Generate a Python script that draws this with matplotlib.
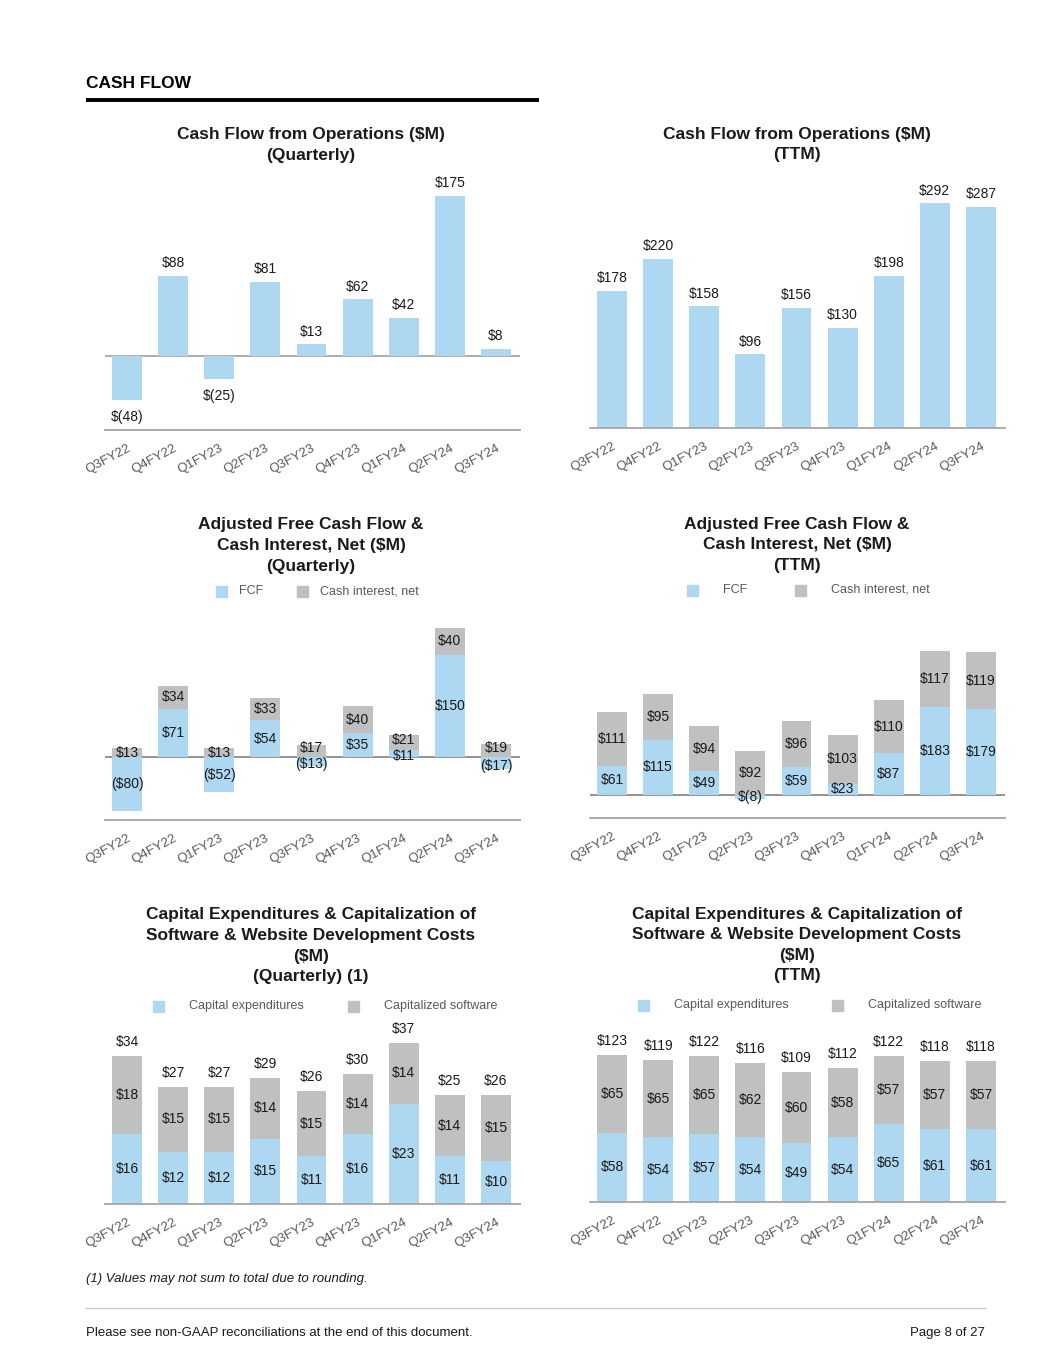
import numpy as np
import matplotlib.pyplot as plt
from matplotlib.patches import Rectangle
from matplotlib.lines import Line2D

plt.rcParams['font.family'] = ['Liberation Sans', 'DejaVu Sans']

# --- data ---
quarters = ['Q3FY22', 'Q4FY22', 'Q1FY23', 'Q2FY23', 'Q3FY23', 'Q4FY23', 'Q1FY24', 'Q2FY24', 'Q3FY24']

cfo_q = [-48, 88, -25, 81, 13, 62, 42, 175, 8]
cfo_q_lbl = ['$(48)', '$88', '$(25)', '$81', '$13', '$62', '$42', '$175', '$8']
cfo_ttm = [178, 220, 158, 96, 156, 130, 198, 292, 287]

fcf_q = [-80, 71, -52, 54, -13, 35, 11, 150, -17]
fcf_q_lbl = ['($80)', '$71', '($52)', '$54', '($13)', '$35', '$11', '$150', '($17)']
int_q = [13, 34, 13, 33, 17, 40, 21, 40, 19]

fcf_ttm = [61, 115, 49, -8, 59, 23, 87, 183, 179]
fcf_ttm_lbl = ['$61', '$115', '$49', '$(8)', '$59', '$23', '$87', '$183', '$179']
int_ttm = [111, 95, 94, 92, 96, 103, 110, 117, 119]

capex_q = [16, 12, 12, 15, 11, 16, 23, 11, 10]
soft_q = [18, 15, 15, 14, 15, 14, 14, 14, 15]
tot_q = [34, 27, 27, 29, 26, 30, 37, 25, 26]

capex_ttm = [58, 54, 57, 54, 49, 54, 65, 61, 61]
soft_ttm = [65, 65, 65, 62, 60, 58, 57, 57, 57]
tot_ttm = [123, 119, 122, 116, 109, 112, 122, 118, 118]

BLUE = '#AED8F2'
GRAY = '#BFC1C1'
AXC = '#A6A6A6'
TXT = '#1a1a1a'

W, H = 1055, 1365
fig = plt.figure(figsize=(W / 100, H / 100), dpi=100)


def fx(x):
    return x / W


def fy(y):
    return 1 - y / H


def make_axes(l, t, r, b, zero_y, scale, zero_line=False):
    ax = fig.add_axes([fx(l), fy(b), (r - l) / W, (b - t) / H])
    ax.set_xlim(-(612 - 590) / 46.1, 8 + (1005 - 981) / 46.1)
    ax.set_ylim(-(b - zero_y) / scale, (zero_y - t) / scale)
    for s in ['top', 'right', 'left']:
        ax.spines[s].set_visible(False)
    ax.spines['bottom'].set_color(AXC)
    ax.spines['bottom'].set_linewidth(1.3)
    ax.set_yticks([])
    ax.set_xticks(range(len(quarters)))
    ax.set_xticklabels(quarters, rotation=28, ha='right', rotation_mode='anchor',
                       fontsize=9.5, color='#595959')
    ax.tick_params(axis='x', length=0, pad=9)
    if zero_line:
        ax.axhline(0, color='#808080', lw=1.2, zorder=0)
    return ax


def title(cx, y0, lines):
    for i, s in enumerate(lines):
        fig.text(fx(cx), fy(y0 + i * 20.6), s, ha='center', va='center',
                 fontsize=12.5, fontweight='bold', color=TXT)


def legend(items):
    for xs, xt, yc, lab, col in items:
        fig.patches.append(Rectangle((fx(xs), fy(yc + 5.5)), 11 / W, 11 / H,
                                     transform=fig.transFigure, color=col, figure=fig))
        fig.text(fx(xt), fy(yc), lab, ha='left', va='center', fontsize=9, color='#595959')


x = np.arange(len(quarters))
bw = 0.65
lab_kw = dict(ha='center', fontsize=10, color=TXT)

# header
fig.text(fx(86), fy(84), 'CASH FLOW', ha='left', va='center', fontsize=12.5,
         fontweight='bold', color='black')
fig.lines.append(Line2D([fx(86), fx(539)], [fy(100), fy(100)], color='black', lw=2.8,
                        solid_capstyle='butt', transform=fig.transFigure))

# --- chart 1: CFO quarterly ---
title(311, 135, ['Cash Flow from Operations ($M)', '(Quarterly)'])
ax1 = make_axes(105, 180, 520, 430, 356, 0.914)
ax1.axhline(0, color=AXC, lw=1.3, zorder=0)
ax1.bar(x, cfo_q, bw, color=BLUE, zorder=2)
for i, v in enumerate(cfo_q):
    if v >= 0:
        ax1.annotate(cfo_q_lbl[i], (i, v), xytext=(0, 4), textcoords='offset points',
                     va='bottom', **lab_kw)
    else:
        ax1.annotate(cfo_q_lbl[i], (i, v), xytext=(0, -7.5), textcoords='offset points',
                     va='top', **lab_kw)

# --- chart 2: CFO TTM ---
title(797, 134, ['Cash Flow from Operations ($M)', '(TTM)'])
ax2 = make_axes(590, 180, 1005, 428, 428, 0.77)
ax2.bar(x, cfo_ttm, bw, color=BLUE, zorder=2)
for i, v in enumerate(cfo_ttm):
    ax2.annotate('$%d' % v, (i, v), xytext=(0, 4), textcoords='offset points',
                 va='bottom', **lab_kw)

# --- chart 3: adjusted FCF quarterly ---
title(311, 525, ['Adjusted Free Cash Flow &', 'Cash Interest, Net ($M)', '(Quarterly)'])
legend([(216, 239, 591, 'FCF', BLUE), (297, 320, 591, 'Cash interest, net', GRAY)])
ax3 = make_axes(105, 610, 520, 820, 757, 0.68, zero_line=True)
base3 = np.maximum(fcf_q, 0)
ax3.bar(x, fcf_q, bw, color=BLUE, zorder=2)
ax3.bar(x, int_q, bw, bottom=base3, color=GRAY, zorder=2)
for i in range(len(x)):
    # small segments: push the two labels apart a little
    dy = 2.0 if abs(fcf_q[i]) < 20 else 0
    ax3.annotate(fcf_q_lbl[i], (i, fcf_q[i] / 2), xytext=(0, -dy), textcoords='offset points',
                 va='center', zorder=3, **lab_kw)
    ax3.annotate('$%d' % int_q[i], (i, base3[i] + int_q[i] / 2), xytext=(0, dy),
                 textcoords='offset points', va='center', zorder=3, **lab_kw)

# --- chart 4: adjusted FCF TTM ---
title(797, 524, ['Adjusted Free Cash Flow &', 'Cash Interest, Net ($M)', '(TTM)'])
legend([(687, 723, 590, 'FCF', BLUE), (795, 831, 590, 'Cash interest, net', GRAY)])
ax4 = make_axes(590, 610, 1005, 818, 795, 0.48, zero_line=True)
base4 = np.maximum(fcf_ttm, 0)
ax4.bar(x, fcf_ttm, bw, color=BLUE, zorder=2)
ax4.bar(x, int_ttm, bw, bottom=base4, color=GRAY, zorder=2)
for i in range(len(x)):
    ax4.text(i, fcf_ttm[i] / 2, fcf_ttm_lbl[i], va='center', zorder=3, **lab_kw)
    ax4.text(i, base4[i] + int_ttm[i] / 2, '$%d' % int_ttm[i], va='center', zorder=3, **lab_kw)

# --- chart 5: capex quarterly ---
title(311, 915, ['Capital Expenditures & Capitalization of',
                 'Software & Website Development Costs', '($M)', '(Quarterly) (1)'])
legend([(153, 189, 1006, 'Capital expenditures', BLUE),
        (348, 384, 1006, 'Capitalized software', GRAY)])
ax5 = make_axes(105, 1020, 520, 1204, 1204, 4.35)
ax5.bar(x, capex_q, bw, color=BLUE, zorder=2)
ax5.bar(x, soft_q, bw, bottom=capex_q, color=GRAY, zorder=2)
for i in range(len(x)):
    ax5.text(i, capex_q[i] / 2, '$%d' % capex_q[i], va='center', **lab_kw)
    ax5.text(i, capex_q[i] + soft_q[i] / 2, '$%d' % soft_q[i], va='center', **lab_kw)
    ax5.annotate('$%d' % tot_q[i], (i, capex_q[i] + soft_q[i]), xytext=(0, 5),
                 textcoords='offset points', va='bottom', **lab_kw)

# --- chart 6: capex TTM ---
title(797, 914, ['Capital Expenditures & Capitalization of',
                 'Software & Website Development Costs', '($M)', '(TTM)'])
legend([(638, 674, 1005, 'Capital expenditures', BLUE),
        (832, 868, 1005, 'Capitalized software', GRAY)])
ax6 = make_axes(590, 1020, 1005, 1202, 1202, 1.195)
ax6.bar(x, capex_ttm, bw, color=BLUE, zorder=2)
ax6.bar(x, soft_ttm, bw, bottom=capex_ttm, color=GRAY, zorder=2)
for i in range(len(x)):
    ax6.text(i, capex_ttm[i] / 2, '$%d' % capex_ttm[i], va='center', **lab_kw)
    ax6.text(i, capex_ttm[i] + soft_ttm[i] / 2, '$%d' % soft_ttm[i], va='center', **lab_kw)
    ax6.annotate('$%d' % tot_ttm[i], (i, capex_ttm[i] + soft_ttm[i]), xytext=(0, 5),
                 textcoords='offset points', va='bottom', **lab_kw)

# footer
fig.text(fx(86), fy(1279), '(1) Values may not sum to total due to rounding.', ha='left',
         va='center', fontsize=9.5, style='italic', color=TXT)
fig.lines.append(Line2D([fx(86), fx(985)], [fy(1308), fy(1308)], color='#C8C8C8', lw=1,
                        transform=fig.transFigure))
fig.text(fx(86), fy(1333), 'Please see non-GAAP reconciliations at the end of this document.',
         ha='left', va='center', fontsize=9.5, color=TXT)
fig.text(fx(985), fy(1333), 'Page 8 of 27', ha='right', va='center', fontsize=9.5, color=TXT)

fig.savefig('out.png', dpi=100)
